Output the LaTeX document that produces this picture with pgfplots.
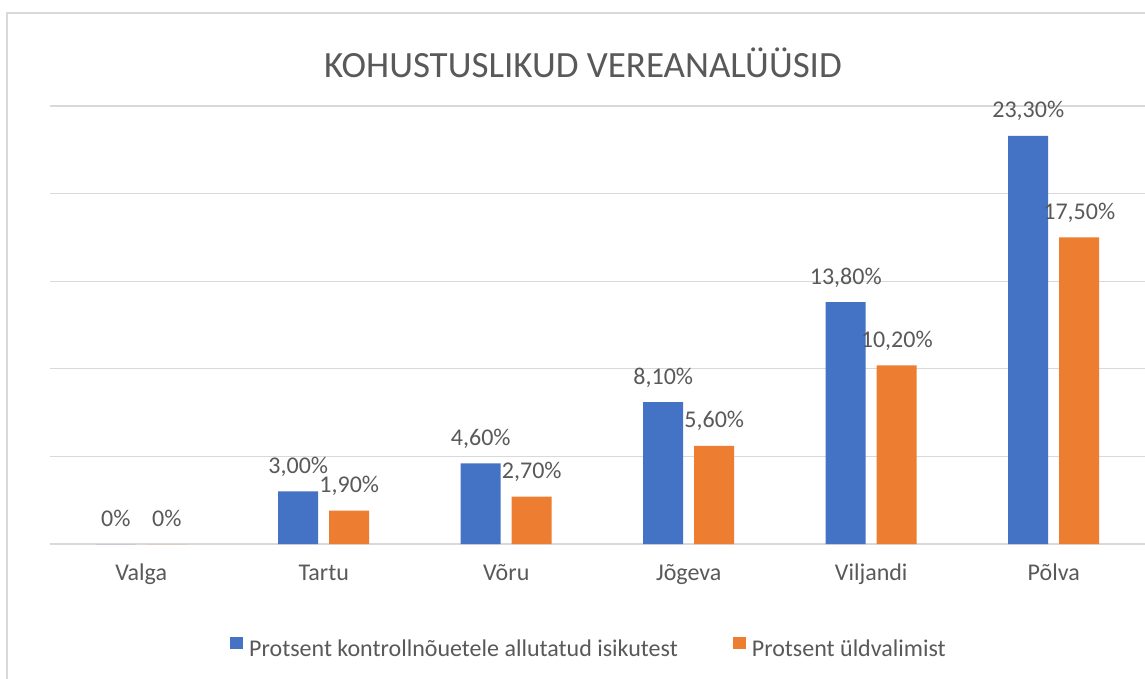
\documentclass[border=0pt]{standalone}
\usepackage{pgfplots}
\pgfplotsset{compat=1.18}
\usepackage{pgfplotstable}
\usepackage{fontspec}
\setmainfont{Carlito}
\definecolor{cblue}{HTML}{4472C4}
\definecolor{corange}{HTML}{ED7D31}
\definecolor{ctext}{HTML}{595959}
\definecolor{cgrid}{HTML}{D9D9D9}

\pgfplotstableread{
x a alab b blab
0 0 {0\%} 0 {0\%}
1 3.0 {3,00\%} 1.9 {1,90\%}
2 4.6 {4,60\%} 2.7 {2,70\%}
3 8.1 {8,10\%} 5.6 {5,60\%}
4 13.8 {13,80\%} 10.2 {10,20\%}
5 23.3 {23,30\%} 17.5 {17,50\%}
}\datatable

\begin{document}
\begin{tikzpicture}
\useasboundingbox (0,0) rectangle (1145pt,678pt);
\clip (0,0) rectangle (1145pt,678pt);
\fill[white] (0,0) rectangle (1145pt,678pt);
\draw[cgrid, line width=1.5pt] (7pt,-10pt) -- (7pt,665pt) -- (1160pt,665pt);
\node[anchor=base, text=ctext, inner sep=0pt, font=\fontsize{37pt}{44pt}\selectfont] at (583pt,600pt) {KOHUSTUSLIKUD VEREANALÜÜSID};
\begin{axis}[
  at={(50pt,134pt)}, anchor=south west,
  scale only axis, width=1095pt, height=438pt,
  xmin=-0.5, xmax=5.5, ymin=0, ymax=25,
  ybar=11pt, bar width=40pt,
  axis x line*=bottom, axis y line*=left,
  x axis line style={draw=cgrid, line width=2pt, -},
  y axis line style={draw=none},
  xtick={0,...,5},
  xticklabels={Valga,Tartu,Võru,Jõgeva,Viljandi,Põlva},
  major tick length=0pt,
  tick style={draw=none},
  xticklabel style={anchor=base, yshift=-36pt, text=ctext, inner sep=0pt,
    font=\fontsize{24pt}{28pt}\selectfont},
  ytick={0,5,...,25}, yticklabels={},
  ymajorgrids, grid style={draw=cgrid, line width=1.3pt},
  clip=false,
  nodes near coords,
  point meta=explicit symbolic,
  every node near coord/.append style={anchor=base, yshift=18pt, inner sep=0pt,
    text=ctext, font=\fontsize{24pt}{28pt}\selectfont},
  legend style={at={(axis description cs:0.4913,-0.2363)}, anchor=center,
    draw=none, fill=none, font=\fontsize{24pt}{28pt}\selectfont, text=ctext,
    /tikz/every even column/.append style={column sep=55pt},
    /tikz/every odd column/.append style={column sep=6pt},
    nodes={inner sep=0pt}},
  legend columns=2,
  legend cell align=left,
]
\addplot[fill=cblue, draw=none,
  legend image code/.code={\fill[cblue] (0pt,-1pt) rectangle (13pt,11pt);}]
  table[x=x, y=a, meta=alab] {\datatable};
\addplot[fill=corange, draw=none,
  legend image code/.code={\fill[corange] (0pt,-1pt) rectangle (13pt,11pt);}]
  table[x=x, y=b, meta=blab] {\datatable};
\legend{Protsent kontrollnõuetele allutatud isikutest, Protsent üldvalimist}
\end{axis}
\end{tikzpicture}
\end{document}
